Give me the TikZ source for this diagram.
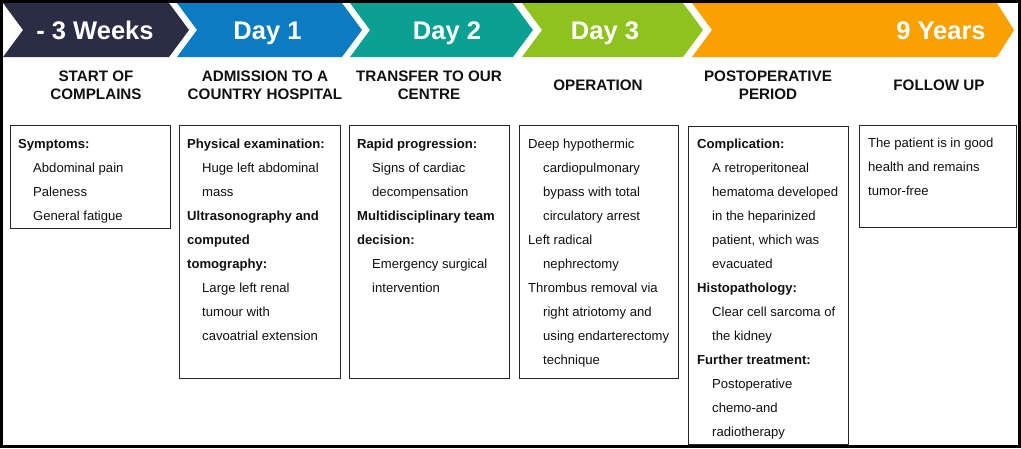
\documentclass[tikz,border=0pt]{standalone}
\usepackage{fontspec}
\setmainfont{Liberation Sans}
\definecolor{cnavy}{HTML}{2B2D45}
\definecolor{cblue}{HTML}{0B7CC1}
\definecolor{cteal}{HTML}{0BA192}
\definecolor{cgreen}{HTML}{8DC21F}
\definecolor{corange}{HTML}{FAA000}
\definecolor{boxline}{HTML}{262626}
\definecolor{txt}{HTML}{111111}
\newcommand\itemind{\hspace*{15pt}}
\tikzset{
  chevlabel/.style={font=\fontsize{25.5}{30}\selectfont\bfseries, text=white, anchor=base, inner sep=0pt},
  head/.style={font=\fontsize{15.2}{18}\selectfont\bfseries, text=txt, align=center, inner sep=0pt, anchor=center},
  infobox/.style={draw=boxline, line width=1.2pt, anchor=north west, inner sep=0pt},
  infotext/.style={font=\fontsize{13.1}{24}\selectfont, text=txt, align=left, anchor=north west, inner sep=0pt},
}
\begin{document}
\begin{tikzpicture}[x=1pt,y=-1pt]
\useasboundingbox (0,0) rectangle (1021,448);
\fill[white] (0,0) rectangle (1021,448);
% chevrons
\fill[cnavy]   (3,3) -- (169,3) -- (189,30) -- (169,57) -- (3,57) -- (23,30) -- cycle;
\fill[cblue]   (177,3) -- (342,3) -- (362,30) -- (342,57) -- (177,57) -- (197,30) -- cycle;
\fill[cteal]   (350,3) -- (513,3) -- (533,30) -- (513,57) -- (350,57) -- (370,30) -- cycle;
\fill[cgreen]  (522,3) -- (683,3) -- (703,30) -- (683,57) -- (522,57) -- (542,30) -- cycle;
\fill[corange] (692,3) -- (997,3) -- (1014,30) -- (997,57) -- (692,57) -- (712,30) -- cycle;
\node[chevlabel] (lw) at (95,39.3) {- 3 Weeks};
\node[chevlabel] (l1) at (267.5,39.3) {Day 1};
\node[chevlabel] (l2) at (447,39.3) {Day 2};
\node[chevlabel] (l3) at (605,39.3) {Day 3};
\node[chevlabel] (l9) at (941,39.3) {9 Years};
% headings
\node[head] (h1) at (96,85.6) {START OF\\COMPLAINS};
\node[head] (h2) at (265,85.6) {ADMISSION TO A\\COUNTRY HOSPITAL};
\node[head] (h3) at (429,85.6) {TRANSFER TO OUR\\CENTRE};
\node[head] (h4) at (598,85.6) {OPERATION};
\node[head] (h5) at (768,85.6) {POSTOPERATIVE\\PERIOD};
\node[head] (h6) at (939,85.6) {FOLLOW UP};
% boxes
\node[infobox, minimum width=160pt, minimum height=103pt] (b1) at (10,125) {};
\node[infobox, minimum width=161pt, minimum height=253pt] (b2) at (179,125) {};
\node[infobox, minimum width=160pt, minimum height=253pt] (b3) at (349,125) {};
\node[infobox, minimum width=159pt, minimum height=253pt] (b4) at (519,125) {};
\node[infobox, minimum width=160pt, minimum height=318pt] (b5) at (688,126) {};
\node[infobox, minimum width=157pt, minimum height=102pt] (b6) at (859,125) {};
\node[infotext] (t1) at ([xshift=8pt,yshift=-13.7pt]b1.north west) {%
\textbf{Symptoms:}\\
\itemind Abdominal pain\\
\itemind Paleness\\
\itemind General fatigue};
\node[infotext] (t2) at ([xshift=8pt,yshift=-13.7pt]b2.north west) {%
\textbf{Physical examination:}\\
\itemind Huge left abdominal\\
\itemind mass\\
\textbf{Ultrasonography and}\\
\textbf{computed}\\
\textbf{tomography:}\\
\itemind Large left renal\\
\itemind tumour with\\
\itemind cavoatrial extension};
\node[infotext] (t3) at ([xshift=8pt,yshift=-13.7pt]b3.north west) {%
\textbf{Rapid progression:}\\
\itemind Signs of cardiac\\
\itemind decompensation\\
\textbf{Multidisciplinary team}\\
\textbf{decision:}\\
\itemind Emergency surgical\\
\itemind intervention};
\node[infotext] (t4) at ([xshift=9pt,yshift=-13.7pt]b4.north west) {%
Deep hypothermic\\
\itemind cardiopulmonary\\
\itemind bypass with total\\
\itemind circulatory arrest\\
Left radical\\
\itemind nephrectomy\\
Thrombus removal via\\
\itemind right atriotomy and\\
\itemind using endarterectomy\\
\itemind technique};
\node[infotext] (t5) at ([xshift=9pt,yshift=-12.7pt]b5.north west) {%
\textbf{Complication:}\\
\itemind A retroperitoneal\\
\itemind hematoma developed\\
\itemind in the heparinized\\
\itemind patient, which was\\
\itemind evacuated\\
\textbf{Histopathology:}\\
\itemind Clear cell sarcoma of\\
\itemind the kidney\\
\textbf{Further treatment:}\\
\itemind Postoperative\\
\itemind chemo-and\\
\itemind radiotherapy};
\node[infotext] (t6) at ([xshift=9pt,yshift=-13.2pt]b6.north west) {%
The patient is in good\\
health and remains\\
tumor-free};
% frame
\draw[black, line width=3pt] (1.5,1.5) rectangle (1019.5,446.5);
\end{tikzpicture}
\end{document}
